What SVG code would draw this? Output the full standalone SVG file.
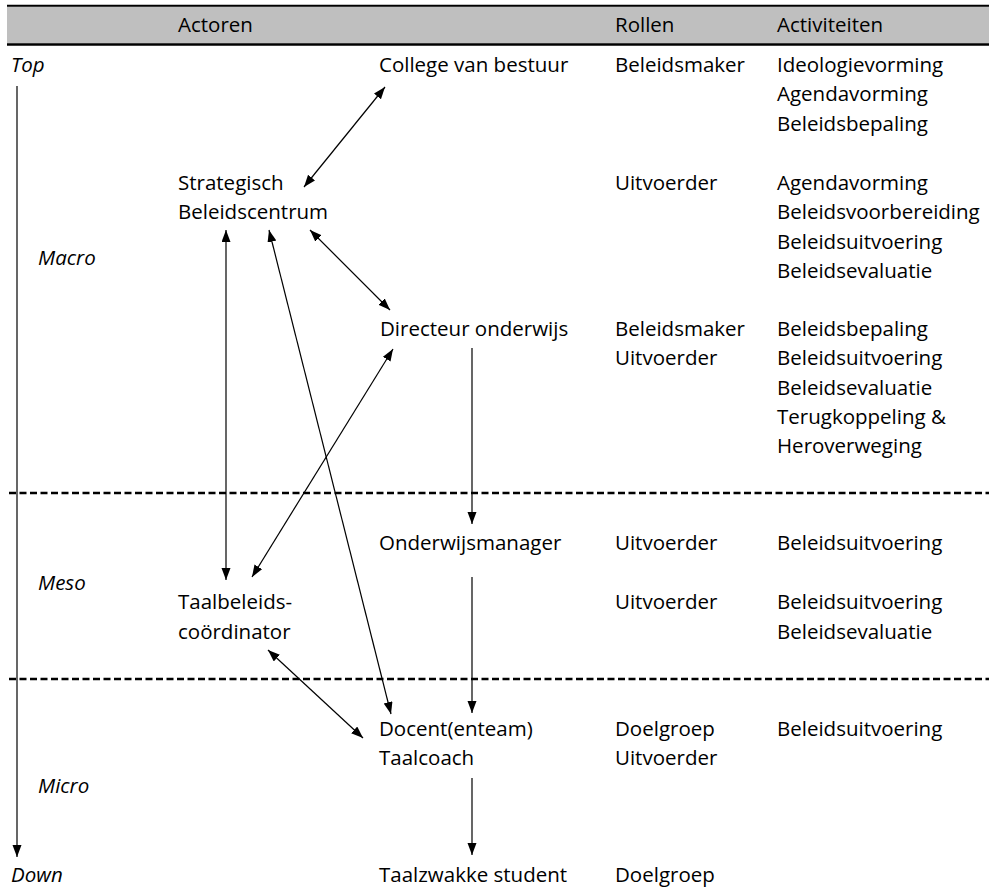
<svg xmlns="http://www.w3.org/2000/svg" width="989" height="890" viewBox="0 0 989 890">
<style>
  text { font-family: "Open Sans", "Liberation Sans", sans-serif; font-size: 20.5px; fill: #000; }
  .it { font-style: italic; }
  .conn line { stroke: #000; stroke-width: 1.2; fill: none; }
  .dot { stroke: #000; stroke-width: 2.7; stroke-dasharray: 7 3.5; }
</style>
<defs>
  <marker id="ah" markerUnits="userSpaceOnUse" markerWidth="13" markerHeight="10" refX="12" refY="4.5" orient="auto-start-reverse">
    <path d="M0,0 L12,4.5 L0,9 z" fill="#000"/>
  </marker>
</defs>
<rect width="989" height="890" fill="#fff"/>

<g id="header">
  <rect x="7" y="6.5" width="982" height="37" fill="#bfbfbf"/>
  <line x1="7" y1="5.8" x2="989" y2="5.8" stroke="#000" stroke-width="2"/>
  <line x1="7" y1="44.5" x2="989" y2="44.5" stroke="#000" stroke-width="2.4"/>
  <text x="178" y="32">Actoren</text>
  <text x="615" y="32">Rollen</text>
  <text x="777" y="32">Activiteiten</text>
</g>

<g id="levels">
  <text class="it" x="11" y="72">Top</text>
  <text class="it" x="38" y="265">Macro</text>
  <text class="it" x="38" y="590">Meso</text>
  <text class="it" x="38" y="793">Micro</text>
  <text class="it" x="11" y="882">Down</text>
</g>

<g id="separators">
  <line class="dot" x1="9" y1="493" x2="989" y2="493"/>
  <line class="dot" x1="9" y1="679" x2="989" y2="679"/>
</g>

<g id="college">
  <text x="379" y="72">College van bestuur</text>
  <text x="615" y="72">Beleidsmaker</text>
  <text x="777" y="72">Ideologievorming</text>
  <text x="777" y="101.3">Agendavorming</text>
  <text x="777" y="130.6">Beleidsbepaling</text>
</g>

<g id="strategisch">
  <text x="178" y="190">Strategisch</text>
  <text x="178" y="219.3">Beleidscentrum</text>
  <text x="615" y="190">Uitvoerder</text>
  <text x="777" y="190">Agendavorming</text>
  <text x="777" y="219.3">Beleidsvoorbereiding</text>
  <text x="777" y="248.6">Beleidsuitvoering</text>
  <text x="777" y="277.9">Beleidsevaluatie</text>
</g>

<g id="directeur">
  <text x="380" y="336">Directeur onderwijs</text>
  <text x="615" y="336">Beleidsmaker</text>
  <text x="615" y="365.3">Uitvoerder</text>
  <text x="777" y="336">Beleidsbepaling</text>
  <text x="777" y="365.3">Beleidsuitvoering</text>
  <text x="777" y="394.6">Beleidsevaluatie</text>
  <text x="777" y="423.9">Terugkoppeling &amp;</text>
  <text x="777" y="453.2">Heroverweging</text>
</g>

<g id="onderwijsmanager">
  <text x="379" y="550">Onderwijsmanager</text>
  <text x="615" y="550">Uitvoerder</text>
  <text x="777" y="550">Beleidsuitvoering</text>
</g>

<g id="taalbeleidscoordinator">
  <text x="178" y="609">Taalbeleids-</text>
  <text x="178" y="638.5">coördinator</text>
  <text x="615" y="609">Uitvoerder</text>
  <text x="777" y="609">Beleidsuitvoering</text>
  <text x="777" y="638.5">Beleidsevaluatie</text>
</g>

<g id="docent">
  <text x="379" y="736">Docent(enteam)</text>
  <text x="379" y="765.3">Taalcoach</text>
  <text x="615" y="736">Doelgroep</text>
  <text x="615" y="765.3">Uitvoerder</text>
  <text x="777" y="736">Beleidsuitvoering</text>
</g>

<g id="student">
  <text x="379" y="882">Taalzwakke student</text>
  <text x="615" y="882">Doelgroep</text>
</g>

<g id="connectors" class="conn">
  <line x1="17" y1="86" x2="17" y2="857" marker-end="url(#ah)"/>
  <line x1="385" y1="87" x2="304" y2="187" marker-start="url(#ah)" marker-end="url(#ah)"/>
  <line x1="310" y1="230" x2="390" y2="310" marker-start="url(#ah)" marker-end="url(#ah)"/>
  <line x1="226" y1="230" x2="226" y2="580" marker-start="url(#ah)" marker-end="url(#ah)"/>
  <line x1="269" y1="230" x2="391" y2="714" marker-start="url(#ah)" marker-end="url(#ah)"/>
  <line x1="393" y1="349" x2="252" y2="577" marker-start="url(#ah)" marker-end="url(#ah)"/>
  <line x1="472" y1="348" x2="472" y2="524" marker-end="url(#ah)"/>
  <line x1="472" y1="577" x2="472" y2="713" marker-end="url(#ah)"/>
  <line x1="268" y1="650" x2="363" y2="738" marker-start="url(#ah)" marker-end="url(#ah)"/>
  <line x1="472" y1="778" x2="472" y2="855" marker-end="url(#ah)"/>
</g>
</svg>
